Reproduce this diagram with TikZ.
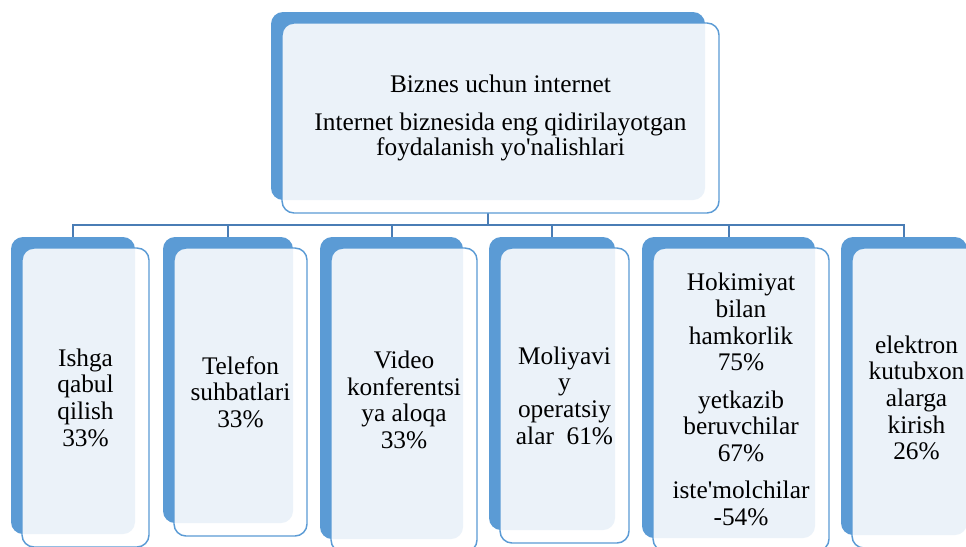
\documentclass[tikz,border=0pt]{standalone}
\usepackage{fontspec}
\setmainfont{Liberation Serif}
\usetikzlibrary{backgrounds}
\definecolor{cardblue}{HTML}{5B9BD5}
\definecolor{cardpale}{HTML}{EBF2F9}
\definecolor{linkblue}{HTML}{4A7DB5}
\tikzset{% boxes and links
    >=latex,
    backbox/.style={fill=cardblue, rounded corners=9pt, inner sep=0pt, outer sep=0pt},
    frontbox/.style={draw=cardblue, line width=1.1pt, fill=white, rounded corners=9pt,
        inner sep=0pt, outer sep=0pt, align=center, font=\fontsize{19}{20}\selectfont,
        path picture={\fill[cardpale, rounded corners=9pt] (#1.south west) rectangle (#1.north east);}},
    link/.style={draw=linkblue, line width=1.5pt}
}

\begin{document}
\begin{tikzpicture}[x=0.75pt, y=-0.75pt]
	\newcommand{\card}[6]{%
		\node[backbox, minimum width={(#4-#2)*0.75pt}, minimum height={(#5-#3)*0.75pt}] (b#1) at ({(#2+#4)/2},{(#3+#5)/2}) {};
		\node[frontbox=b#1, minimum width={(#4-#2+3)*0.75pt}, minimum height={(#5-#3+2)*0.75pt}] (f#1) at ({(#2+#4)/2+12.5},{(#3+#5)/2+12}) {#6};
	}
	\useasboundingbox (0,0) rectangle (966,546);
	\clip (0,0) rectangle (966,546);

	% top box
	\card{top}{271}{12}{705}{200}{Biznes uchun internet\\[8.5pt] Internet biznesida eng qidirilayotgan\\[-1pt] foydalanish yo\textquotesingle nalishlari}

	% child boxes
	\card{1}{11}{237}{135}{534}{Ishga\\ qabul\\ qilish\\ 33\%}
	\card{2}{163}{237}{293}{523}{Telefon\\ suhbatlari\\ 33\%}
	\card{3}{320}{237}{463}{539}{Video\\ konferentsi\\ ya aloqa\\ 33\%}
	\card{4}{489}{237}{615}{530}{Moliyavi\\ y\\ operatsiy\\ alar\ \ 61\%}
	\card{5}{642}{237}{815}{538}{Hokimiyat\\ bilan\\ hamkorlik\\ 75\%\\[8pt] yetkazib\\ beruvchilar\\ 67\%\\[8pt] iste\textquotesingle molchilar\\ -54\%}
	\card{6}{841}{237}{967}{535}{elektron\\ kutubxon\\ alarga\\ kirish\\ 26\%}

	% links
	\begin{scope}[on background layer]
		\path (btop.south) ++(0,25) coordinate (bar);
		\draw[link] (btop.south) -- (bar);
		\foreach \i in {1,...,6}
			\draw[link] (bar) -| (b\i.north);
	\end{scope}
\end{tikzpicture}
\end{document}
